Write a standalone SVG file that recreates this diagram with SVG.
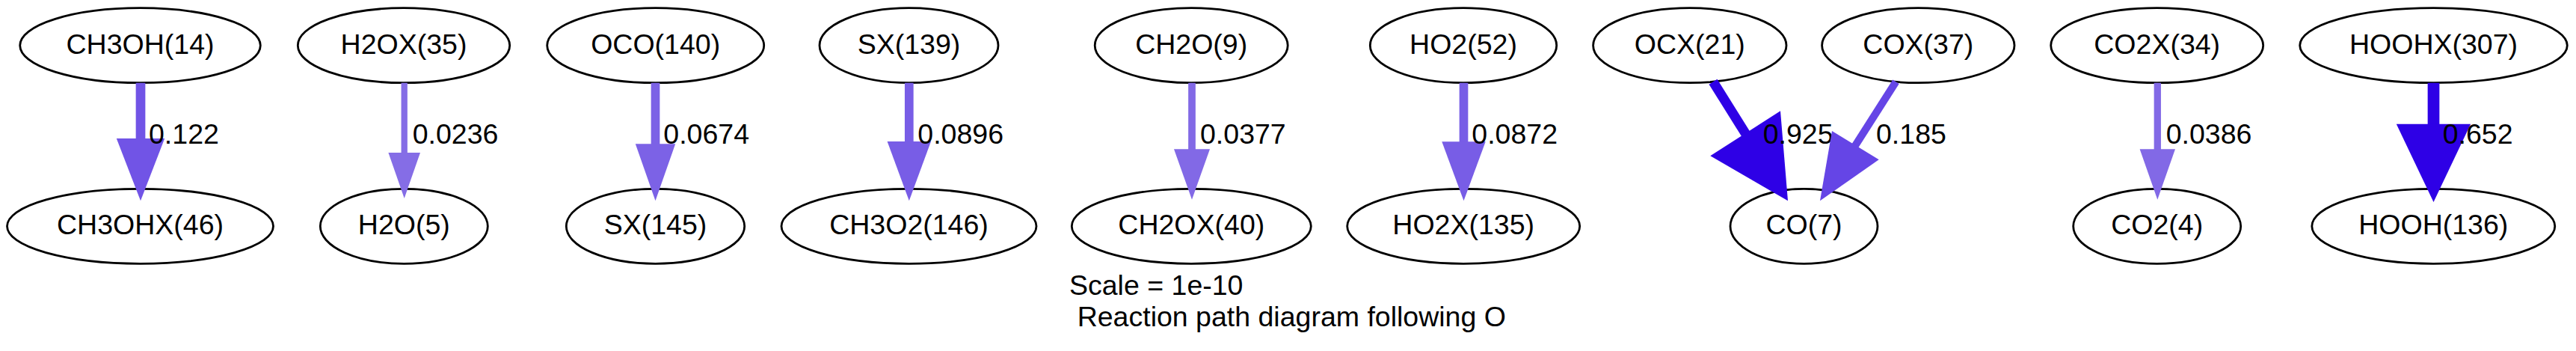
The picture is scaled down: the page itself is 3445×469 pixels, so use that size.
<svg xmlns="http://www.w3.org/2000/svg" width="3445" height="469" viewBox="0 0 3445 469">
<style>
.bg{fill:#ffffff}
.node ellipse{fill:none;stroke:#000000;stroke-width:2.8}
text{font-family:"Liberation Sans",Arial,Helvetica,sans-serif;font-size:37.5px;fill:#000000}
.node text{text-anchor:middle}
.edge line{fill:none}
</style>
<rect class="bg" x="0" y="0" width="3445" height="469"/>
<g id="nodes">
<g id="CH3OH_14" class="node"><ellipse cx="187.5" cy="60.7" rx="160.8" ry="50"/><text x="187.5" y="71.5">CH3OH(14)</text></g>
<g id="CH3OHX_46" class="node"><ellipse cx="187.5" cy="302.3" rx="178" ry="50"/><text x="187.5" y="313.1">CH3OHX(46)</text></g>
<g id="H2OX_35" class="node"><ellipse cx="540" cy="60.7" rx="141.7" ry="50"/><text x="540" y="71.5">H2OX(35)</text></g>
<g id="H2O_5" class="node"><ellipse cx="540.3" cy="302.3" rx="112" ry="50"/><text x="540.3" y="313.1">H2O(5)</text></g>
<g id="OCO_140" class="node"><ellipse cx="876.7" cy="60.7" rx="145" ry="50"/><text x="876.7" y="71.5">OCO(140)</text></g>
<g id="SX_145" class="node"><ellipse cx="876.5" cy="302.3" rx="119.2" ry="50"/><text x="876.5" y="313.1">SX(145)</text></g>
<g id="SX_139" class="node"><ellipse cx="1215.5" cy="60.7" rx="119.5" ry="50"/><text x="1215.5" y="71.5">SX(139)</text></g>
<g id="CH3O2_146" class="node"><ellipse cx="1215.5" cy="302.3" rx="170.5" ry="50"/><text x="1215.5" y="313.1">CH3O2(146)</text></g>
<g id="CH2O_9" class="node"><ellipse cx="1593.2" cy="60.7" rx="129" ry="50"/><text x="1593.2" y="71.5">CH2O(9)</text></g>
<g id="CH2OX_40" class="node"><ellipse cx="1593.3" cy="302.3" rx="160" ry="50"/><text x="1593.3" y="313.1">CH2OX(40)</text></g>
<g id="HO2_52" class="node"><ellipse cx="1957" cy="60.7" rx="124.7" ry="50"/><text x="1957" y="71.5">HO2(52)</text></g>
<g id="HO2X_135" class="node"><ellipse cx="1957.2" cy="302.3" rx="155.5" ry="50"/><text x="1957.2" y="313.1">HO2X(135)</text></g>
<g id="OCX_21" class="node"><ellipse cx="2259.8" cy="60.7" rx="129.2" ry="50"/><text x="2259.8" y="71.5">OCX(21)</text></g>
<g id="COX_37" class="node"><ellipse cx="2565.3" cy="60.7" rx="128.7" ry="50"/><text x="2565.3" y="71.5">COX(37)</text></g>
<g id="CO_7" class="node"><ellipse cx="2412.5" cy="302.3" rx="98.5" ry="50"/><text x="2412.5" y="313.1">CO(7)</text></g>
<g id="CO2X_34" class="node"><ellipse cx="2884.7" cy="60.7" rx="142" ry="50"/><text x="2884.7" y="71.5">CO2X(34)</text></g>
<g id="CO2_4" class="node"><ellipse cx="2884.7" cy="302.3" rx="112" ry="50"/><text x="2884.7" y="313.1">CO2(4)</text></g>
<g id="HOOHX_307" class="node"><ellipse cx="3254.5" cy="60.7" rx="178.8" ry="50"/><text x="3254.5" y="71.5">HOOHX(307)</text></g>
<g id="HOOH_136" class="node"><ellipse cx="3254.3" cy="302.3" rx="162.5" ry="50"/><text x="3254.3" y="313.1">HOOH(136)</text></g>
</g>
<g id="connectors">
<g class="edge"><line x1="188" y1="110.7" x2="188" y2="186" stroke="#7154e6" stroke-width="12.7"/><polygon points="155.8,185 220.2,185 188,268.3" fill="#7154e6"/><text x="199" y="192.3">0.122</text></g>
<g class="edge"><line x1="540.7" y1="110.7" x2="540.7" y2="205" stroke="#856de6" stroke-width="8.3"/><polygon points="519.4,204 562,204 540.7,265" fill="#856de6"/><text x="551.7" y="192.3">0.0236</text></g>
<g class="edge"><line x1="876.5" y1="110.7" x2="876.5" y2="193" stroke="#7c62e6" stroke-width="11.7"/><polygon points="849.8,192.3 903.2,192.3 876.5,268.3" fill="#7c62e6"/><text x="887.3" y="192.3">0.0674</text></g>
<g class="edge"><line x1="1215.8" y1="110.7" x2="1215.8" y2="190" stroke="#785de6" stroke-width="11.7"/><polygon points="1186.6,189 1245,189 1215.8,268.3" fill="#785de6"/><text x="1227.3" y="192.3">0.0896</text></g>
<g class="edge"><line x1="1594" y1="110.7" x2="1594" y2="200" stroke="#8269e6" stroke-width="9.7"/><polygon points="1570,199.3 1618,199.3 1594,266.7" fill="#8269e6"/><text x="1605" y="192.3">0.0377</text></g>
<g class="edge"><line x1="1957.5" y1="110.7" x2="1957.5" y2="190" stroke="#785de6" stroke-width="11.7"/><polygon points="1928.3,189.3 1986.7,189.3 1957.5,268.3" fill="#785de6"/><text x="1968.3" y="192.3">0.0872</text></g>
<g class="edge"><line x1="2291" y1="109.3" x2="2334.6" y2="178.9" stroke="#2e00e6" stroke-width="13"/><polygon points="2381,148.3 2287.3,208.3 2391,268.3" fill="#2e00e6"/><text x="2357.7" y="192.3">0.925</text></g>
<g class="edge"><line x1="2535.5" y1="109.2" x2="2480.8" y2="195" stroke="#6545e6" stroke-width="10"/><polygon points="2450,175 2512.7,213.3 2434,268.3" fill="#6545e6"/><text x="2509" y="192.3">0.185</text></g>
<g class="edge"><line x1="2885.3" y1="110.7" x2="2885.3" y2="200" stroke="#8269e6" stroke-width="9.3"/><polygon points="2861.6,199.3 2909,199.3 2885.3,266.7" fill="#8269e6"/><text x="2896.7" y="192.3">0.0386</text></g>
<g class="edge"><line x1="3254.5" y1="110.7" x2="3254.5" y2="166.5" stroke="#2e00e6" stroke-width="15.7"/><polygon points="3204.8,165.7 3304.2,165.7 3254.5,270" fill="#2e00e6"/><text x="3266.7" y="192.3">0.652</text></g>
</g>
<g id="graph-label">
<text x="1430" y="394.3">Scale = 1e-10</text>
<text x="1440.7" y="435.7">Reaction path diagram following O</text>
</g>
</svg>
